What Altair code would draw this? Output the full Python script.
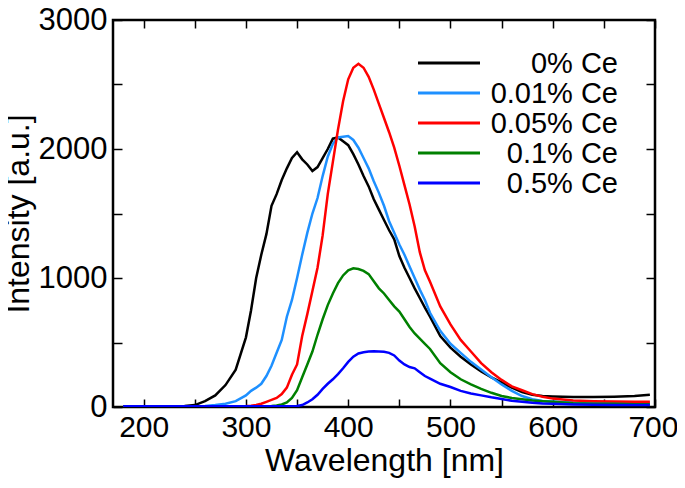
import altair as alt
import pandas as pd

wavelength = [180, 200, 220, 240, 250, 260, 270, 280, 290, 300, 305, 310, 315, 320, 325, 330,
              335, 340, 345, 350, 355, 360, 365, 370, 375, 380, 385, 390, 395, 400, 405, 410,
              415, 420, 425, 430, 435, 440, 445, 450, 455, 460, 465, 470, 475, 480, 490, 500,
              510, 520, 530, 540, 550, 560, 570, 580, 590, 600, 620, 640, 660, 680, 695]

ce_0 = [5, 5, 5, 8, 15, 45, 90, 170, 290, 540, 750, 1000, 1180, 1340, 1560, 1650,
        1760, 1850, 1930, 1975, 1920, 1880, 1830, 1860, 1930, 2000, 2080, 2090, 2060, 2030, 1960, 1880,
        1790, 1710, 1610, 1530, 1450, 1370, 1300, 1170, 1080, 1000, 920, 845, 770, 700, 550, 460,
        390, 330, 275, 230, 190, 150, 115, 95, 85, 82, 78, 78, 80, 85, 95]

ce_001 = [5, 5, 5, 5, 5, 8, 15, 25, 45, 90, 125, 150, 180, 240, 320, 420,
          520, 700, 830, 1000, 1180, 1350, 1500, 1620, 1790, 1940, 2040, 2090, 2095, 2100, 2070, 2010,
          1930, 1850, 1750, 1660, 1560, 1440, 1350, 1260, 1180, 1090, 1000, 910, 830, 730, 590, 490,
          420, 350, 290, 230, 175, 125, 85, 60, 47, 42, 35, 32, 30, 30, 32]

ce_005 = [5, 5, 5, 5, 5, 5, 5, 5, 6, 8, 10, 15, 25, 40, 55, 70,
          100, 150, 250, 330, 550, 720, 900, 1080, 1330, 1650, 1900, 2150, 2370, 2540, 2630, 2660,
          2630, 2560, 2460, 2350, 2240, 2130, 2010, 1870, 1720, 1570, 1400, 1200, 1060, 970, 780, 640,
          520, 430, 340, 270, 210, 160, 130, 100, 80, 65, 50, 45, 42, 40, 40]

ce_01 = [5, 5, 5, 5, 5, 5, 5, 5, 5, 5, 5, 5, 5, 5, 8, 12,
         20, 35, 70, 130, 230, 330, 430, 560, 680, 790, 880, 960, 1020, 1060, 1075, 1070,
         1055, 1030, 975, 920, 880, 830, 780, 740, 680, 620, 570, 530, 490, 450, 340, 270,
         215, 175, 140, 110, 85, 70, 60, 50, 45, 40, 30, 25, 25, 22, 22]

ce_05 = [5, 5, 5, 5, 5, 5, 5, 5, 5, 5, 5, 5, 5, 5, 5, 5,
         5, 5, 5, 8, 15, 35, 60, 95, 140, 180, 215, 255, 300, 350, 390, 415,
         425, 430, 432, 430, 428, 420, 400, 360, 330, 310, 300, 270, 240, 220, 180, 155,
         125, 105, 90, 75, 62, 48, 40, 33, 28, 25, 20, 18, 15, 15, 15]

series_names = ["0% Ce", "0.01% Ce", "0.05% Ce", "0.1% Ce", "0.5% Ce"]
series_colors = ["#000000", "#1e90ff", "#ff0000", "#008000", "#0000ff"]
series_values = [ce_0, ce_001, ce_005, ce_01, ce_05]

x_labels = [200, 300, 400, 500, 600, 700]
y_labels = [0, 1000, 2000, 3000]
x_minor = [200, 250, 300, 350, 400, 450, 500, 550, 600, 650, 700]
y_minor = [0, 500, 1000, 1500, 2000, 2500, 3000]

rows = []
for name, vals in zip(series_names, series_values):
    for w, v in zip(wavelength, vals):
        rows.append({"series": name, "wavelength": w, "intensity": v})
df = pd.DataFrame(rows)

W, H = 542, 387
FONT = "Liberation Sans"

xscale = alt.Scale(domain=[170, 700], nice=False, zero=False)
yscale = alt.Scale(domain=[0, 3000], nice=False)
color = alt.Color("series:N", scale=alt.Scale(domain=series_names, range=series_colors),
                  legend=None, sort=series_names)

lines = alt.Chart(df).mark_line(strokeWidth=2.5, clip=True).encode(
    x=alt.X("wavelength:Q", scale=xscale,
            axis=alt.Axis(orient="bottom", values=x_labels, format="d", ticks=False,
                          domain=False, grid=False, labelFontSize=30, labelFont=FONT,
                          labelColor="black", labelPadding=5, labelFlush=True,
                          labelFlushOffset=23, labelOverlap=False, title="Wavelength [nm]",
                          titleFontSize=32, titleFont=FONT, titleFontWeight="normal",
                          titleColor="black", titlePadding=3)),
    y=alt.Y("intensity:Q", scale=yscale,
            axis=alt.Axis(orient="left", values=y_labels, format="d", ticks=False,
                          domain=False, grid=False, labelFontSize=31, labelFont=FONT,
                          labelColor="black", labelPadding=6, labelFlush=False,
                          labelOverlap=False, title="Intensity [a.u.]",
                          titleFontSize=32, titleFont=FONT, titleFontWeight="normal",
                          titleColor="black", titlePadding=3)),
    color=color,
)

ticks_a = alt.Chart(df).mark_line(opacity=0).encode(
    x=alt.X("wavelength:Q", scale=xscale,
            axis=alt.Axis(orient="top", offset=-H, values=x_minor, labels=False, domain=False,
                          grid=False, tickSize=8, tickWidth=1.5, tickColor="black", title=None)),
    y=alt.Y("intensity:Q", scale=yscale,
            axis=alt.Axis(orient="right", offset=-W, values=y_minor, labels=False, domain=False,
                          grid=False, tickSize=9, tickWidth=1.5, tickColor="black", title=None)),
)

ticks_b = alt.Chart(df).mark_line(opacity=0).encode(
    x=alt.X("wavelength:Q", scale=xscale,
            axis=alt.Axis(orient="bottom", offset=-H, values=x_minor, labels=False, domain=False,
                          grid=False, tickSize=8, tickWidth=1.5, tickColor="black", title=None)),
    y=alt.Y("intensity:Q", scale=yscale,
            axis=alt.Axis(orient="left", offset=-W, values=y_minor, labels=False, domain=False,
                          grid=False, tickSize=9, tickWidth=1.5, tickColor="black", title=None)),
)

leg_df = pd.DataFrame({"series": series_names, "row": list(range(len(series_names)))})
leg_y = alt.Y("row:Q", scale=alt.Scale(domain=[0, 4], range=[43, 163]), axis=None)

leg_rules = alt.Chart(leg_df).mark_rule(strokeWidth=3).encode(
    x=alt.value(305), x2=alt.value(367), y=leg_y, color=color
)
leg_text = alt.Chart(leg_df).mark_text(
    align="right", baseline="middle", fontSize=29, font=FONT, color="black", dy=1
).encode(x=alt.value(505), y=leg_y, text="series:N")

chart = (
    alt.layer(lines, ticks_a, ticks_b, leg_rules, leg_text)
    .resolve_scale(y="independent")
    .resolve_axis(x="independent", y="independent")
    .properties(
        width=W, height=H,
        autosize=alt.AutoSizeParams(type="none"),
        padding={"left": 105, "top": 12, "right": 22, "bottom": 73},
    )
    .configure_view(stroke="black", strokeWidth=2.5)
)

chart.save("out.html", embed_options={"renderer": "svg", "actions": False})
